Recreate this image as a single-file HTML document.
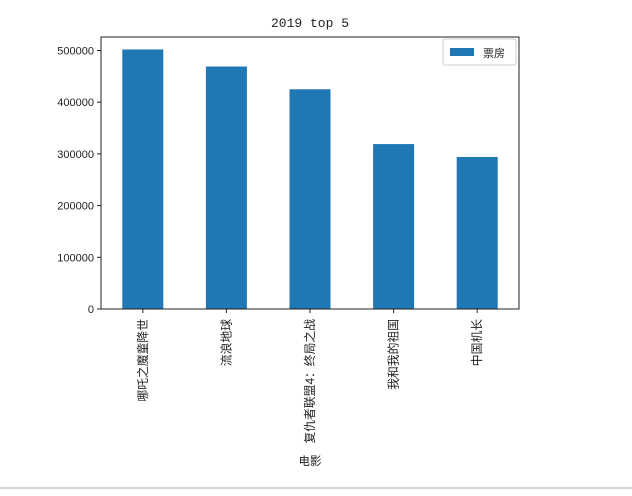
<!DOCTYPE html>
<html><head><meta charset="utf-8"><style>
body{margin:0;background:#fff;width:632px;height:491px;overflow:hidden;font-family:"Liberation Sans","Noto Sans CJK SC",sans-serif}
</style></head><body>
<svg id="c" width="632" height="491" xmlns="http://www.w3.org/2000/svg" font-family="'Liberation Sans','Noto Sans CJK SC',sans-serif">
<line x1="0" y1="488" x2="632" y2="488" stroke="#aaa" stroke-width="1"/>
<text x="310" y="27" font-size="13" text-anchor="middle" fill="#222" font-family="'Liberation Mono',monospace">2019 top 5</text>
<g id="bars"></g>
<g id="yt"></g>
<g id="xt"></g>
<rect x="101" y="37" width="418" height="272" fill="none" stroke="#222" stroke-width="1"/>
<g>
<rect x="443" y="39" width="73" height="26" fill="#fff" stroke="#ccc" rx="2"/>
<rect x="450" y="48" width="24" height="8" fill="#1f77b4"/>
<text x="483" y="57" font-size="11" fill="#222">票房</text>
</g>
<text x="310" y="465" font-size="11.5" text-anchor="middle" fill="#222">电影</text>
</svg>
<script>
const categories=["哪吒之魔童降世","流浪地球","复仇者联盟4：终局之战","我和我的祖国","中国机长"];
const values=[502000,469000,425000,319000,294000];
const yTicks=[0,100000,200000,300000,400000,500000];
const ns="http://www.w3.org/2000/svg";
const L=101,R=519,B=309,pxPer=51.7/100000;
const y=v=>B-v*pxPer;
const step=(R-L)/categories.length;
const x=i=>L+step*(i+0.5);
const bars=document.getElementById('bars'),yt=document.getElementById('yt'),xt=document.getElementById('xt');
function mk(t,a){const e=document.createElementNS(ns,t);for(const k in a)e.setAttribute(k,a[k]);return e;}
values.forEach((v,i)=>{
const r=mk('rect',{x:x(i)-20.5,y:y(v),width:41,height:B-y(v),fill:'#1f77b4'});


bars.appendChild(r);
const tk=mk('line',{x1:x(i),x2:x(i),y1:B,y2:B+4,stroke:'#222'});


xt.appendChild(tk);
const t=mk('text',{transform:`translate(${x(i)+4},${B+10}) rotate(-90)`,'font-size':11.8,'text-anchor':'end',fill:'#222'});
t.textContent=categories[i];


xt.appendChild(t);
});
yTicks.forEach(v=>{
const tk=mk('line',{x1:L-4,x2:L,y1:y(v),y2:y(v),stroke:'#222'});


yt.appendChild(tk);
const t=mk('text',{x:L-7,y:y(v)+4,'font-size':11,'text-anchor':'end',fill:'#222'});
t.textContent=v;


yt.appendChild(t);
});
</script>
</body></html>
